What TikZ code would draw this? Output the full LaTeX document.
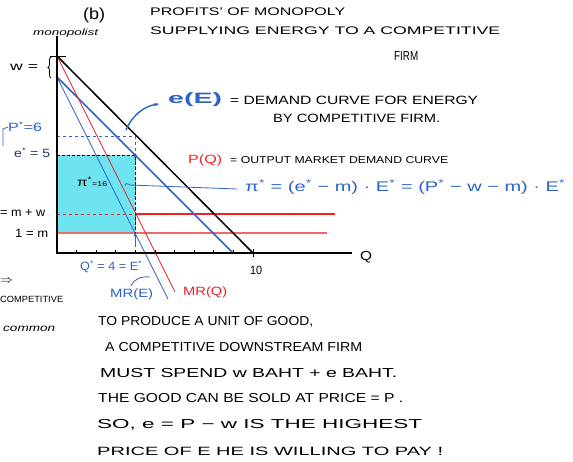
\documentclass[tikz,border=0pt]{standalone}
\usepackage{graphicx}
\usepackage{fontspec}
\setmainfont{Liberation Sans}
\usetikzlibrary{decorations.pathreplacing,arrows.meta,calc}
\definecolor{inkblue}{RGB}{45,100,200}
\definecolor{inkred}{RGB}{235,35,40}
\definecolor{lightred}{RGB}{240,105,105}
\definecolor{shadecol}{RGB}{110,228,240}
\definecolor{navy}{RGB}{40,55,100}
\newcommand\fitw[2]{\resizebox{#1pt}{\height}{#2}}
\begin{document}
\begin{tikzpicture}[x=1pt,y=-1pt,
  txt/.style={inner sep=0pt, anchor=west},
  ax/.style={line width=1.6pt, black},
  thickline/.style={line width=1.5pt},
  thinline/.style={line width=0.8pt},
  ttl/.style={txt, font=\fontsize{11}{13}\selectfont},
  body/.style={txt, font=\fontsize{13}{15}\selectfont},
  lbl/.style={txt, font=\fontsize{12}{14}\selectfont},
]
\useasboundingbox (0,0) rectangle (573,461);
\fill[white] (0,0) rectangle (573,461);
% coordinates
\coordinate (O) at (57,253);
\coordinate (Ytop) at (57,36);
\coordinate (Xend) at (352,253);
\coordinate (Pint) at (57,56);
\coordinate (Eint) at (57,77);
\coordinate (Pend) at (253,253);
\coordinate (Eend) at (233,253);
\coordinate (MRQend) at (175,292);
\coordinate (MREend) at (168,299);
\coordinate (Xq) at (135,253);
\coordinate (Pstar) at (57,136);
\coordinate (Pq) at (135,136);
\coordinate (Estar) at (57,155);
\coordinate (Eq) at (135,155);
\coordinate (MW) at (57,214);
\coordinate (MWq) at (135,214);
\coordinate (MWend) at (335,214);
\coordinate (M) at (57,233);
\coordinate (Mq) at (135,233);
\coordinate (Mend) at (327,233);
% shaded profit
\fill[shadecol] (Estar) rectangle (Mq);
% horizontal lines
\draw[lightred, line width=1.2pt] (M) -- (Mend);
\draw[inkred, dashed, line width=1pt] (MW) -- (MWq);
\draw[inkred, line width=1.5pt] (MWq) -- (MWend);
\draw[inkblue, dashed, thinline] (Pstar) -- (Pq) -- (Xq);
\draw[black, densely dashed, thinline] (Estar) -- (Eq) -- (Mq);
\fill (Eq) circle (1.6);
% demand & MR
\draw[black, thickline] (Pint) -- (Pend);
\draw[inkblue, thickline] (Eint) -- (Eend);
\draw[inkred, thinline] (Pint) -- (MRQend);
\draw[inkblue, thinline] (Eint) -- (MREend);
% axes
\draw[ax] (Ytop) -- (O) -- (Xend);
\foreach \k in {1,...,9} \draw[thinline] ($(O)+(19.6*\k,0)$) -- ++(0,-3);
\draw[thinline] ($(Pend)+(0,-4)$) -- ++(0,8);
\draw[thinline] ($(Pint)+(-7,0)$) -- ++(16,0);
\draw[thinline, decorate, decoration={brace, amplitude=3pt}] (51,78) -- (51,57);
\draw[inkblue, thinline, -{Stealth[length=4pt]}] ($(Mq)+(0,12)$) -- (Mq);
% pointers
\coordinate (cA) at (126,130);
\coordinate (cB) at (159,104);
\draw[inkblue, line width=1.4pt, -{Stealth[length=5pt]}] (cA) .. controls (133,114) and (145,106) .. (cB);
\coordinate (piA) at (125,186);
\coordinate (piB) at (237,189);
\draw[inkblue, thinline] (piA) .. controls (126,183) .. (130,185) -- (piB);
\coordinate (mrA) at (131,286);
\coordinate (mrB) at (150,277);
\draw[inkblue, thinline] (mrA) .. controls (134,279) and (141,276) .. (mrB);
\draw[inkblue, thinline] (3,146) -- (3,129) -- (8,127);
% texts
\node[txt, font=\fontsize{16}{18}\selectfont] (b) at (83,15) {\fitw{22}{(b)}};
\node[txt, font=\fontsize{9}{10}\selectfont\itshape] (mono) at (33,33) {\fitw{65}{monopolist}};
\node[ttl] (t1) at (150,12) {\fitw{195}{PROFITS' OF MONOPOLY}};
\node[ttl] (t2) at (150,31) {\fitw{350}{SUPPLYING ENERGY TO A COMPETITIVE}};
\node[txt, font=\fontsize{13}{15}\selectfont] (t3) at (394,56) {\fitw{24}{FIRM}};
\node[lbl] (wl) at (10,67) {\fitw{28}{w =}};
\node[txt, font=\fontsize{15}{17}\selectfont\bfseries, text=inkblue] (eE) at (168,100) {\fitw{54}{e(E)}};
\node[lbl] (dem) at (230,100) {\fitw{248}{= DEMAND CURVE FOR ENERGY}};
\node[lbl] (by) at (273,118) {\fitw{167}{BY COMPETITIVE FIRM.}};
\node[lbl, text=inkblue] (ps) at (8,127) {\fitw{34}{P\textsuperscript{*}=6}};
\node[lbl, text=navy] (es) at (14,153) {\fitw{36}{e\textsuperscript{*} = 5}};
\node[lbl, text=inkred] (pq) at (188,160) {\fitw{34}{P(Q)}};
\node[txt, font=\fontsize{10}{12}\selectfont] (omd) at (230,160) {\fitw{218}{= OUTPUT MARKET DEMAND CURVE}};
\node[lbl] (pi) at (77,182) {\fitw{30}{π\textsuperscript{*}{\scriptsize=16}}};
\node[txt, font=\fontsize{14}{16}\selectfont, text=inkblue] (form) at (245,187) {\fitw{320}{π\textsuperscript{*} = (e\textsuperscript{*} − m) · E\textsuperscript{*} = (P\textsuperscript{*} − w − m) · E\textsuperscript{*}}};
\node[lbl] (mw) at (0,213) {\fitw{45}{= m + w}};
\node[lbl] (m1) at (15,233) {\fitw{33}{1 = m}};
\node[lbl, text=inkblue] (qs) at (80,267) {\fitw{62}{Q\textsuperscript{*} = 4 = E\textsuperscript{*}}};
\node[lbl] (ten) at (250,270) {\fitw{12}{10}};
\node[txt, font=\fontsize{13}{15}\selectfont] (q) at (360,257) {\fitw{12}{Q}};
\node[lbl, text=inkblue] (mre) at (110,294) {\fitw{43}{MR(E)}};
\node[lbl, text=inkred] (mrq) at (183,292) {\fitw{44}{MR(Q)}};
\node[lbl] (arr) at (0,281) {\fitw{13}{$\Rightarrow$}};
\node[txt, font=\fontsize{9}{10}\selectfont] (comp) at (0,299) {\fitw{63}{COMPETITIVE}};
\node[txt, font=\fontsize{10}{12}\selectfont\itshape] (comm) at (3,329) {\fitw{52}{common}};
\node[body] (l1) at (98,322) {\fitw{215}{TO PRODUCE A UNIT OF GOOD,}};
\node[body] (l2) at (105,347) {\fitw{257}{A COMPETITIVE DOWNSTREAM FIRM}};
\node[body] (l3) at (100,373) {\fitw{297}{MUST SPEND w BAHT + e BAHT.}};
\node[body] (l4) at (98,398) {\fitw{305}{THE GOOD CAN BE SOLD AT PRICE = P .}};
\node[body] (l5) at (97,425) {\fitw{325}{SO, e = P − w IS THE HIGHEST}};
\node[txt, font=\fontsize{12}{14}\selectfont] (l6) at (97,451) {\fitw{346}{PRICE OF E HE IS WILLING TO PAY !}};
\end{tikzpicture}
\end{document}
